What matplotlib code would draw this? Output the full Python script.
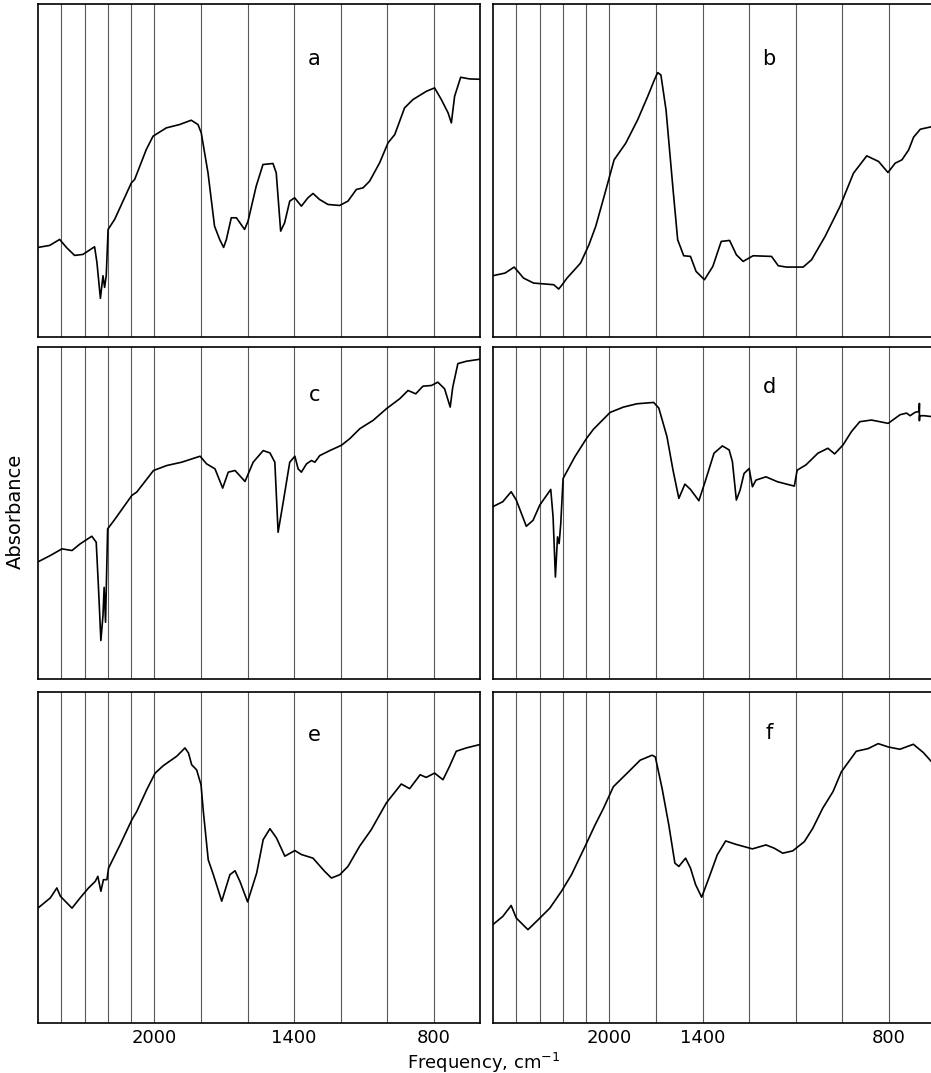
import numpy as np
import matplotlib.pyplot as plt

# IR spectra, wavenumber (cm-1) vs absorbance (arbitrary, 0-100 of panel height)
wn_a = [2500, 2450, 2407, 2378, 2343, 2307, 2257, 2247, 2232, 2221, 2214, 2207, 2199, 2171,
        2099, 2085, 2035, 2006, 1949, 1892, 1842, 1813, 1799, 1770, 1742, 1720, 1703, 1691,
        1670, 1648, 1613, 1598, 1563, 1534, 1491, 1477, 1458, 1441, 1419, 1398, 1369, 1341,
        1319, 1291, 1255, 1205, 1169, 1133, 1104, 1076, 1033, 997, 968, 926, 890, 832, 797,
        768, 739, 725, 711, 685, 647, 604]
ab_a = [26.9, 27.5, 29.3, 26.9, 24.5, 24.8, 27.1, 22.4, 11.6, 18.4, 14.9, 18.4, 32.3, 35.3,
        46.3, 47.3, 56.3, 60.3, 62.8, 63.8, 65.1, 63.8, 61.3, 49.3, 33.3, 29.3, 26.9, 29.3,
        35.8, 35.8, 32.3, 34.8, 45.3, 51.8, 52.1, 49.3, 31.8, 34.3, 40.8, 41.8, 39.3, 41.8,
        43.1, 41.3, 39.8, 39.5, 40.8, 44.3, 44.8, 46.8, 52.3, 58.3, 60.8, 68.8, 71.3, 73.8,
        74.8, 71.3, 67.3, 64.3, 72.3, 78.0, 77.5, 77.4]

wn_b = [2501, 2448, 2409, 2369, 2326, 2239, 2218, 2203, 2182, 2124, 2088, 2059, 2023, 1980,
        1930, 1879, 1836, 1807, 1793, 1779, 1757, 1728, 1707, 1681, 1652, 1628, 1592, 1556,
        1520, 1484, 1455, 1426, 1383, 1304, 1275, 1240, 1168, 1132, 1074, 1010, 952, 895,
        844, 804, 773, 744, 715, 694, 665, 600]
ab_b = [18.4, 19.2, 21.0, 17.7, 16.2, 15.7, 14.4, 15.7, 17.7, 22.2, 27.7, 33.2, 42.2, 53.2,
        58.2, 65.2, 72.2, 77.2, 79.4, 78.7, 68.2, 45.2, 29.2, 24.4, 24.2, 19.7, 17.2, 21.2,
        28.7, 29.0, 24.7, 22.7, 24.4, 24.2, 21.4, 21.0, 21.0, 23.2, 30.2, 39.2, 49.2, 54.4,
        52.7, 49.4, 52.2, 53.2, 56.2, 60.0, 62.4, 63.4]

wn_c = [2497, 2447, 2397, 2354, 2319, 2269, 2250, 2240, 2230, 2221, 2216, 2210, 2201, 2169,
        2097, 2076, 2004, 1947, 1883, 1804, 1776, 1740, 1707, 1683, 1654, 1611, 1576, 1533,
        1504, 1483, 1469, 1447, 1419, 1397, 1383, 1369, 1347, 1326, 1311, 1290, 1247, 1197,
        1161, 1118, 1061, 1004, 947, 911, 878, 847, 811, 783, 754, 730, 719, 697, 661, 604]
ab_c = [35.4, 37.2, 39.2, 38.7, 40.7, 43.0, 41.2, 27.1, 11.6, 19.1, 27.6, 17.1, 45.2, 48.2,
        55.3, 56.3, 62.8, 64.3, 65.3, 67.1, 64.8, 63.3, 57.5, 62.3, 62.8, 59.5, 65.3, 68.8,
        68.1, 65.3, 44.2, 53.3, 65.3, 67.1, 63.3, 62.3, 64.8, 65.8, 65.3, 67.3, 68.8, 70.4,
        72.4, 75.4, 77.9, 81.4, 84.4, 86.9, 85.9, 88.2, 88.4, 89.4, 87.4, 81.9, 87.9, 95.0,
        95.7, 96.3]

wn_d = [2501, 2458, 2422, 2400, 2357, 2328, 2299, 2252, 2242, 2232, 2223, 2216, 2209, 2199,
        2148, 2098, 2069, 1997, 1940, 1882, 1810, 1788, 1753, 1727, 1702, 1676, 1652, 1616,
        1587, 1551, 1515, 1486, 1472, 1455, 1439, 1422, 1400, 1386, 1371, 1328, 1278, 1206,
        1194, 1156, 1105, 1062, 1033, 997, 961, 925, 875, 803, 752, 724, 709, 688, 670, 669,
        669, 668, 648, 600]
ab_d = [51.9, 53.4, 56.4, 53.9, 46.0, 47.8, 52.4, 57.1, 48.8, 30.7, 42.8, 40.8, 46.8, 60.4,
        67.0, 72.5, 75.2, 80.3, 81.9, 82.9, 83.3, 81.6, 73.0, 62.9, 54.4, 58.7, 57.1, 53.7,
        59.9, 68.0, 70.2, 69.0, 65.5, 53.9, 56.9, 61.9, 63.4, 57.9, 59.9, 60.9, 59.4, 58.1,
        62.9, 64.5, 68.0, 69.5, 67.8, 70.5, 74.5, 77.5, 78.0, 77.0, 79.6, 80.1, 79.3, 80.3,
        80.6, 83.0, 77.8, 79.3, 79.3, 78.9]

wn_e = [2497, 2447, 2419, 2404, 2354, 2319, 2283, 2254, 2243, 2230, 2219, 2204, 2197, 2147,
        2097, 2076, 2033, 1997, 1961, 1904, 1869, 1854, 1840, 1819, 1800, 1790, 1769, 1747,
        1711, 1676, 1654, 1633, 1600, 1561, 1533, 1504, 1476, 1440, 1397, 1369, 1319, 1269,
        1240, 1204, 1169, 1119, 1069, 1004, 940, 904, 859, 833, 797, 761, 733, 704, 661, 604]
ab_e = [34.9, 37.8, 40.8, 38.3, 34.7, 37.8, 40.8, 42.8, 44.3, 39.8, 43.3, 43.3, 46.8, 53.9,
        61.4, 63.9, 70.5, 75.5, 77.8, 80.6, 83.1, 81.6, 78.0, 76.5, 72.0, 63.9, 49.3, 44.8,
        36.8, 44.8, 46.0, 42.8, 36.6, 45.3, 55.4, 58.7, 55.9, 50.4, 52.1, 50.9, 49.8, 45.8,
        43.8, 44.8, 47.3, 53.4, 58.4, 66.5, 72.2, 70.8, 75.0, 74.2, 75.5, 73.5, 77.5, 82.1,
        83.1, 84.1]

wn_f = [2501, 2458, 2422, 2400, 2350, 2306, 2256, 2206, 2163, 2105, 2062, 2026, 1983, 1918,
        1868, 1817, 1803, 1774, 1745, 1719, 1702, 1673, 1652, 1630, 1604, 1573, 1537, 1501,
        1458, 1386, 1328, 1292, 1256, 1213, 1163, 1127, 1084, 1040, 1004, 968, 940, 889, 846,
        803, 753, 695, 652, 600]
ab_f = [29.7, 32.2, 35.5, 31.7, 28.2, 31.2, 34.7, 39.8, 44.8, 53.3, 59.8, 64.8, 71.4, 75.9,
        79.4, 80.9, 80.4, 70.9, 59.8, 48.3, 47.3, 49.8, 46.8, 41.8, 38.0, 43.8, 50.8, 55.0,
        54.0, 52.6, 53.8, 52.8, 51.3, 52.0, 54.8, 58.8, 64.9, 69.9, 75.9, 79.4, 82.1, 82.9,
        84.4, 83.4, 82.7, 84.2, 81.7, 77.6]

grid_wn = [2400, 2300, 2200, 2100, 2000, 1800, 1600, 1400, 1200, 1000, 800]
left_ticks = [2000, 1400, 800]
right_ticks = [2000, 1600, 800]   # the printed "1400" sits on the 1600 line in b/d/f
tick_labels = ['2000', '1400', '800']

panels = [('a', wn_a, ab_a, 0.835), ('b', wn_b, ab_b, 0.835),
          ('c', wn_c, ab_c, 0.855), ('d', wn_d, ab_d, 0.88),
          ('e', wn_e, ab_e, 0.87), ('f', wn_f, ab_f, 0.875)]

fig = plt.figure(figsize=(9.31, 10.73), dpi=100)
W, H = 931, 1073
cols = [(38, 480), (493, 935)]
rows = [(4, 337), (347, 679), (692, 1023)]

for i, (name, wn, ab, ly) in enumerate(panels):
    r, c = divmod(i, 2)
    x0, x1 = cols[c]
    y0, y1 = rows[r]
    ax = fig.add_axes([x0 / W, 1 - y1 / H, (x1 - x0) / W, (y1 - y0) / H])
    for g in grid_wn:
        ax.axvline(g, color='0.35', lw=0.8, zorder=1)
    ax.plot(wn, ab, color='black', lw=1.2, zorder=3)
    ax.set_xlim(2500, 602)
    ax.set_ylim(0, 100)
    ax.set_yticks([])
    ax.text(0.625, ly, name, transform=ax.transAxes, fontsize=15,
            ha='center', va='center')
    for s in ax.spines.values():
        s.set_linewidth(1.2)
    if r == 2:
        ax.set_xticks(left_ticks if c == 0 else right_ticks)
        ax.set_xticklabels(tick_labels, fontsize=13)
        ax.tick_params(axis='x', length=0, pad=4)
    else:
        ax.set_xticks([])

fig.text(15 / W, 1 - 511 / H, 'Absorbance', rotation=90, fontsize=14,
         ha='center', va='center')
fig.text(484 / W, 1 - 1063 / H, 'Frequency, cm$^{-1}$', fontsize=13,
         ha='center', va='center')

fig.savefig('out.png', dpi=100)
